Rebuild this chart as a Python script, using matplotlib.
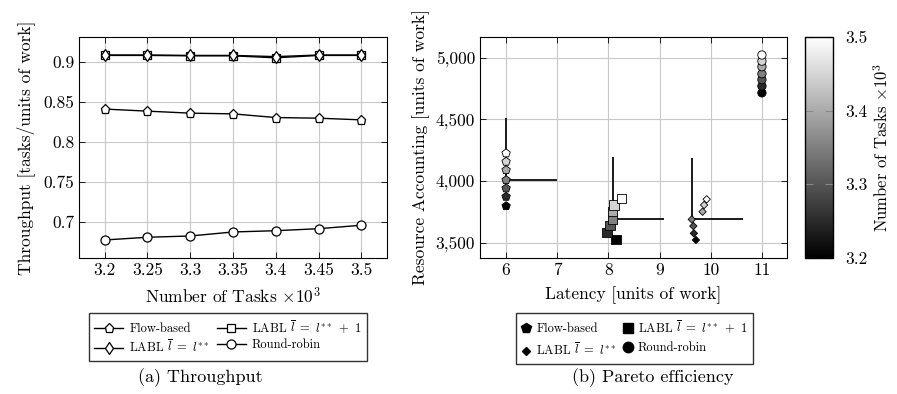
import matplotlib
matplotlib.use("Agg")
import matplotlib.pyplot as plt
import numpy as np
from matplotlib.ticker import FixedLocator
from matplotlib.lines import Line2D

plt.rcParams['font.family'] = 'serif'
plt.rcParams['font.serif'] = ['cmr10', 'DejaVu Serif']
plt.rcParams['mathtext.fontset'] = 'cm'
plt.rcParams['axes.formatter.use_mathtext'] = True
plt.rcParams['axes.unicode_minus'] = False

# ---------------- data ----------------
tasks = [3.2, 3.25, 3.3, 3.35, 3.4, 3.45, 3.5]

thr_flow = [0.841, 0.8384, 0.8359, 0.835, 0.8304, 0.8296, 0.8275]
thr_labl1 = [0.908, 0.908, 0.9075, 0.9075, 0.9050, 0.908, 0.908]
thr_labl = [0.9085, 0.9085, 0.908, 0.908, 0.9065, 0.9085, 0.9085]
thr_rr = [0.6775, 0.6809, 0.6825, 0.6875, 0.6891, 0.6916, 0.6959]

lat_flow = [6.0, 6.0, 6.0, 6.0, 6.0, 6.0, 6.0]
res_flow = [3797, 3873, 3941, 4008, 4089, 4157, 4225]
lat_labl1 = [8.15, 7.97, 8.03, 8.08, 8.08, 8.11, 8.26]
res_labl1 = [3528, 3581, 3638, 3692, 3751, 3805, 3860]
lat_labl = [9.71, 9.67, 9.66, 9.63, 9.84, 9.87, 9.92]
res_labl = [3522, 3576, 3635, 3689, 3751, 3806, 3852]
lat_rr = [11.0, 11.0, 11.0, 11.0, 11.0, 11.0, 11.0]
res_rr = [4715, 4770, 4822, 4870, 4927, 4972, 5022]

err_lat = 1.0
err_res = 500.0
err_idx = 3  # error bar drawn on the 3.35 point

lab_flow = 'Flow-based'
lab_labl1 = r'LABL $\overline{l}\ =\ l^{**}\ +\ 1$'
lab_labl = r'LABL $\overline{l}\ =\ l^{**}$'
lab_rr = 'Round-robin'

fig = plt.figure(figsize=(8.97, 3.94), dpi=100)

grid_kw = dict(color='#c8c8c8', lw=0.8)
tick_fs = 12.5
leg_fs = 9

# ---------------- (a) throughput ----------------
ax1 = fig.add_axes([79/897, 136/394, 308/897, 221/394])
lw = 1.0
mk = dict(mfc='white', mec='black', mew=0.9)
ax1.plot(tasks, thr_flow, color='black', lw=lw, marker='p', ms=6.5, label=lab_flow, zorder=3, **mk)
ax1.plot(tasks, thr_labl1, color='black', lw=lw, marker='s', ms=6, label=lab_labl1, zorder=3, **mk)
ax1.plot(tasks, thr_labl, color='black', lw=lw, marker='d', ms=6.5, label=lab_labl, zorder=3, **mk)
ax1.plot(tasks, thr_rr, color='black', lw=lw, marker='o', ms=6.5, label=lab_rr, zorder=3, **mk)
ax1.set_xlim(3.17, 3.53)
ax1.set_ylim(0.655, 0.931)
ax1.xaxis.set_major_locator(FixedLocator(tasks))
ax1.set_xticklabels(['3.2', '3.25', '3.3', '3.35', '3.4', '3.45', '3.5'])
ax1.set_yticks([0.7, 0.75, 0.8, 0.85, 0.9])
ax1.set_yticklabels(['0.7', '0.75', '0.8', '0.85', '0.9'])
ax1.grid(True, **grid_kw)
ax1.set_axisbelow(True)
ax1.tick_params(direction='in', top=True, right=True, length=4, labelsize=tick_fs, width=0.6)
ax1.set_xlabel(r'Number of Tasks $\times 10^3$', fontsize=12.5, labelpad=6)
ax1.set_ylabel('Throughput [tasks/units of work]', fontsize=12.5, labelpad=6)

h = ax1.get_legend_handles_labels()[0]
leg1 = ax1.legend([h[0], h[2], h[1], h[3]], [lab_flow, lab_labl, lab_labl1, lab_rr],
                  ncol=2, loc='upper center', bbox_to_anchor=(0.484, -0.249),
                  borderaxespad=0.0,
                  fontsize=leg_fs, frameon=True, fancybox=False, edgecolor='black',
                  handlelength=2.3, columnspacing=0.6, handletextpad=0.5,
                  borderpad=0.45, labelspacing=0.3)
leg1.get_frame().set_linewidth(1.0)

fig.text(200/897, 1 - 378/394, '(a) Throughput', ha='center', va='center', fontsize=13)

# ---------------- (b) pareto ----------------
ax2 = fig.add_axes([480/897, 136/394, 307/897, 221/394])
cmap = plt.get_cmap('gray')
norm = plt.Normalize(3.2, 3.5)

series = [
    (lat_flow, res_flow, 'p', 40, lab_flow),
    (lat_labl1, res_labl1, 's', 45, lab_labl1),
    (lat_labl, res_labl, 'D', 14, lab_labl),
    (lat_rr, res_rr, 'o', 36, lab_rr),
]
for i, (lx, ry, m, s, lab) in enumerate(series):
    if lab != lab_rr:
        ax2.errorbar([lx[err_idx]], [ry[err_idx]], xerr=[[0], [err_lat]], yerr=[[0], [err_res]],
                     fmt='none', ecolor='#1a1a1a', elinewidth=1.4, capsize=0, zorder=2)
    ax2.scatter(lx, ry, c=tasks, cmap=cmap, norm=norm, marker=m, s=s,
                edgecolors='black', linewidths=0.6, zorder=3)

ax2.set_xlim(5.49, 11.49)
ax2.set_ylim(3376, 5168)
ax2.set_xticks([6, 7, 8, 9, 10, 11])
ax2.set_xticklabels(['6', '7', '8', '9', '10', '11'])
ax2.set_yticks([3500, 4000, 4500, 5000])
ax2.set_yticklabels(['3,500', '4,000', '4,500', '5,000'])
ax2.grid(True, **grid_kw)
ax2.set_axisbelow(True)
ax2.tick_params(direction='in', top=True, right=True, length=4, labelsize=tick_fs, width=0.6)
ax2.set_xlabel('Latency [units of work]', fontsize=12.5, labelpad=6)
ax2.set_ylabel('Resource Accounting [units of work]', fontsize=12.5, labelpad=4)

leg_handles = [
    Line2D([], [], ls='none', marker='p', ms=7, color='black'),
    Line2D([], [], ls='none', marker='D', ms=4.5, color='black'),
    Line2D([], [], ls='none', marker='s', ms=7.5, color='black'),
    Line2D([], [], ls='none', marker='o', ms=7.5, color='black'),
]
leg2 = ax2.legend(leg_handles, [lab_flow, lab_labl, lab_labl1, lab_rr],
                  ncol=2, loc='upper center', bbox_to_anchor=(0.503, -0.249),
                  borderaxespad=0.0,
                  fontsize=leg_fs, frameon=True, fancybox=False, edgecolor='black',
                  handlelength=0.8, columnspacing=0.5, handletextpad=0.4,
                  borderpad=0.45, labelspacing=0.55)
leg2.get_frame().set_linewidth(1.0)

fig.text(653/897, 1 - 378/394, '(b) Pareto efficiency', ha='center', va='center', fontsize=13)

# colorbar
cax = fig.add_axes([805/897, 136/394, 28/897, 221/394])
sm = matplotlib.cm.ScalarMappable(norm=norm, cmap=cmap)
cb = fig.colorbar(sm, cax=cax)
cb.set_ticks([3.2, 3.3, 3.4, 3.5])
cb.set_ticklabels(['3.2', '3.3', '3.4', '3.5'])
cax.tick_params(direction='in', left=True, right=True, length=6, color='#888888',
                labelsize=tick_fs, width=0.8, pad=9)
cb.outline.set_linewidth(1.0)
cb.set_label(r'Number of Tasks $\times 10^3$', fontsize=12, labelpad=3)

fig.savefig('out.png', dpi=100)
